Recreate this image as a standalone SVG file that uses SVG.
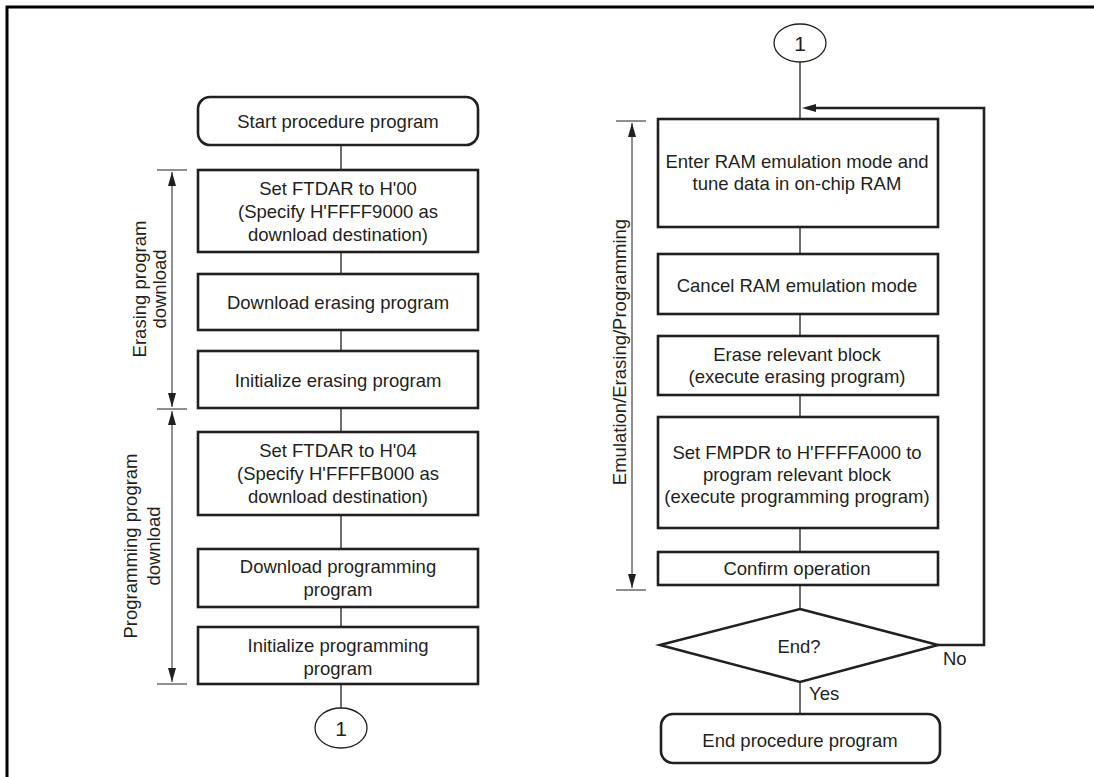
<svg xmlns="http://www.w3.org/2000/svg" width="1094" height="777" viewBox="0 0 1094 777">
<defs>
<style>
.box{fill:#fff;stroke:#231f20;stroke-width:2.6}
.ln{fill:none;stroke:#231f20;stroke-width:1.3}
.thk{fill:none;stroke:#231f20;stroke-width:2.6}
.dim{fill:none;stroke:#231f20;stroke-width:1}
text{font-family:"Liberation Sans",Arial,sans-serif;font-size:18.5px;fill:#231f20}
.c{text-anchor:middle}
</style>
<marker id="ah" viewBox="0 0 14 8" refX="14" refY="4" markerWidth="14" markerHeight="8" markerUnits="userSpaceOnUse" orient="auto">
<path d="M0,0 L14,4 L0,8 Z" fill="#231f20"/>
</marker>
</defs>
<rect width="1094" height="777" fill="#fff"/>
<path d="M7,777 V7 H1094" fill="none" stroke="#000" stroke-width="3"/>

<g id="connectors">
<path class="ln" d="M341,145 V170 M341,252 V274 M341,330 V351 M341,408 V432 M341,515 V549 M341,607 V627 M341,684 V708"/>
<path class="ln" d="M800,62 V119 M800,227 V254 M800,314 V336 M800,395 V417 M800,528 V552 M800,585 V609 M800,682 V714"/>
<path class="thk" d="M938,645 H984 V108 H816"/>
<path d="M802,108 L816,104 L816,112 Z" fill="#231f20"/>
<text x="943" y="665">No</text>
<text x="809" y="700">Yes</text>
</g>

<g id="dimensions">
<path class="dim" d="M157,170 H187 M157,409 H187 M157,684 H187 M616,121 H646 M616,590 H646"/>
<path class="dim" d="M172,289 V172" marker-end="url(#ah)"/>
<path class="dim" d="M172,289 V407" marker-end="url(#ah)"/>
<path class="dim" d="M172,546 V411" marker-end="url(#ah)"/>
<path class="dim" d="M172,546 V682" marker-end="url(#ah)"/>
<path class="dim" d="M632,355 V123" marker-end="url(#ah)"/>
<path class="dim" d="M632,355 V588" marker-end="url(#ah)"/>
<text class="c" transform="translate(146,289) rotate(-90)">Erasing program</text>
<text class="c" transform="translate(166,289) rotate(-90)">download</text>
<text class="c" transform="translate(137,546) rotate(-90)">Programming program</text>
<text class="c" transform="translate(160,546) rotate(-90)">download</text>
<text class="c" transform="translate(626,352) rotate(-90)">Emulation/Erasing/Programming</text>
</g>

<g id="start">
<rect class="box" x="198" y="97" width="280" height="48" rx="12"/>
<text class="c" x="338" y="128">Start procedure program</text>
</g>
<g id="ftdar00">
<rect class="box" x="198" y="170" width="280" height="82"/>
<text class="c" x="338" y="195">Set FTDAR to H'00</text>
<text class="c" x="338" y="218">(Specify H'FFFF9000 as</text>
<text class="c" x="338" y="241">download destination)</text>
</g>
<g id="dlerase">
<rect class="box" x="198" y="274" width="280" height="56"/>
<text class="c" x="338" y="309">Download erasing program</text>
</g>
<g id="initerase">
<rect class="box" x="198" y="351" width="280" height="57"/>
<text class="c" x="338" y="387">Initialize erasing program</text>
</g>
<g id="ftdar04">
<rect class="box" x="198" y="432" width="280" height="83"/>
<text class="c" x="338" y="457">Set FTDAR to H'04</text>
<text class="c" x="338" y="480">(Specify H'FFFFB000 as</text>
<text class="c" x="338" y="503">download destination)</text>
</g>
<g id="dlprog">
<rect class="box" x="198" y="549" width="280" height="58"/>
<text class="c" x="338" y="573">Download programming</text>
<text class="c" x="338" y="596">program</text>
</g>
<g id="initprog">
<rect class="box" x="198" y="627" width="280" height="57"/>
<text class="c" x="338" y="652">Initialize programming</text>
<text class="c" x="338" y="675">program</text>
</g>
<g id="conn1a">
<ellipse cx="341" cy="728" rx="26" ry="20" fill="#fff" stroke="#231f20" stroke-width="1.3"/>
<text class="c" x="341" y="736" style="font-size:21px">1</text>
</g>

<g id="conn1b">
<ellipse cx="800" cy="43" rx="26" ry="19" fill="#fff" stroke="#231f20" stroke-width="1.3"/>
<text class="c" x="800" y="51" style="font-size:21px">1</text>
</g>
<g id="ramemu">
<rect class="box" x="658" y="119" width="280" height="108"/>
<text class="c" x="797" y="168">Enter RAM emulation mode and</text>
<text class="c" x="797" y="190">tune data in on-chip RAM</text>
</g>
<g id="cancel">
<rect class="box" x="658" y="254" width="280" height="60"/>
<text class="c" x="797" y="292">Cancel RAM emulation mode</text>
</g>
<g id="erase">
<rect class="box" x="658" y="336" width="280" height="59"/>
<text class="c" x="797" y="361">Erase relevant block</text>
<text class="c" x="797" y="383">(execute erasing program)</text>
</g>
<g id="fmpdr">
<rect class="box" x="658" y="417" width="280" height="111"/>
<text class="c" x="797" y="459">Set FMPDR to H'FFFFA000 to</text>
<text class="c" x="797" y="481">program relevant block</text>
<text class="c" x="797" y="503">(execute programming program)</text>
</g>
<g id="confirm">
<rect class="box" x="658" y="552" width="280" height="33"/>
<text class="c" x="797" y="575">Confirm operation</text>
</g>
<g id="enddec">
<polygon class="box" points="800,609 938,645 800,682 660,645"/>
<text class="c" x="799" y="653">End?</text>
</g>
<g id="endproc">
<rect class="box" x="661" y="714" width="279" height="49" rx="12"/>
<text class="c" x="800" y="747">End procedure program</text>
</g>
</svg>
